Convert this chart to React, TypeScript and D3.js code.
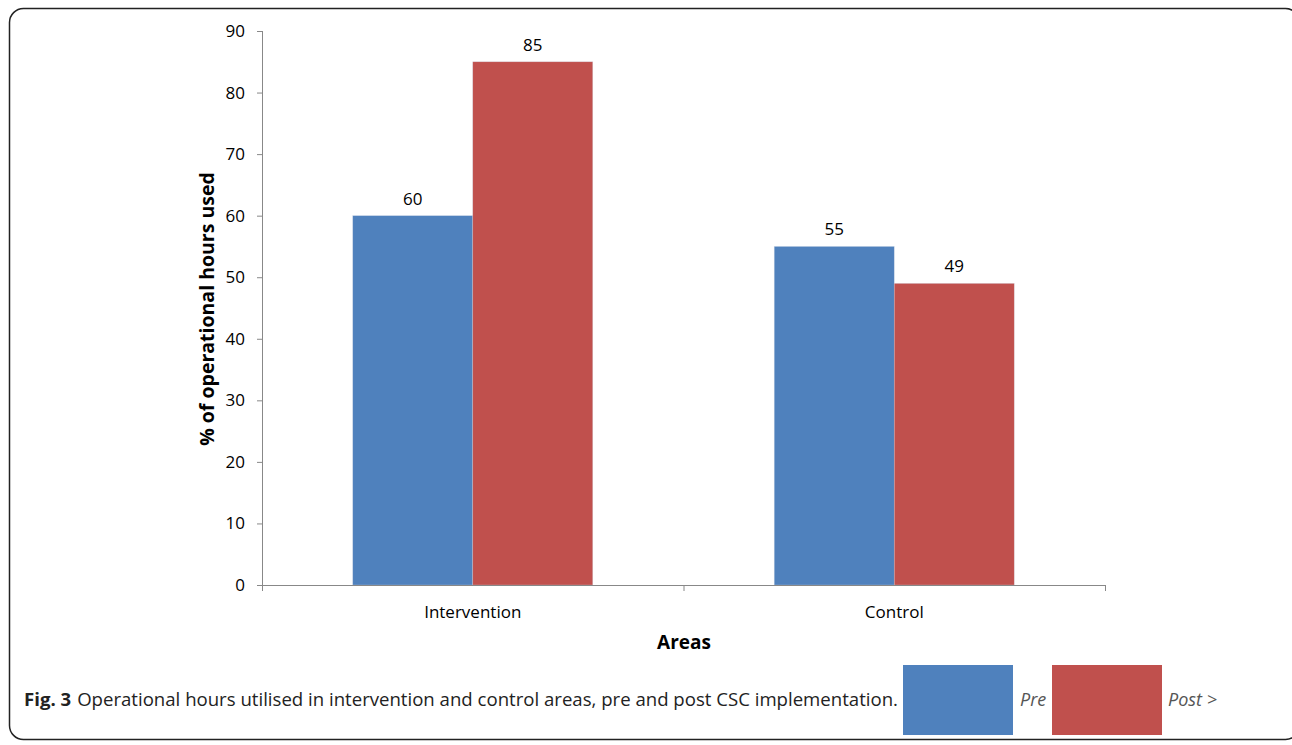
import React from "react";
import * as d3 from "d3";

const categories = ["Intervention", "Control"];
const seriesNames = ["Pre", "Post"];
const preValues = [60, 55];
const postValues = [85, 49];
const yTicks = [0, 10, 20, 30, 40, 50, 60, 70, 80, 90];
const colors = ["#4F81BD", "#C0504D"];

export default function App() {
  const W = 1292, H = 745;
  const x0 = 262, x1 = 1105, y0 = 585, y1 = 31;
  const y = d3.scaleLinear().domain([0, 90]).range([y0, y1]);
  const xb = d3.scaleBand().domain(categories).range([x0, x1]).paddingInner(0).paddingOuter(0);
  const inner = d3.scaleBand().domain(seriesNames).range([0, 240]);
  const series = [preValues, postValues];
  const font = "'Open Sans', sans-serif";
  return (
    <svg width={W} height={H} style={{ position: "absolute", left: 0, top: 0 }}>
      <rect x={0} y={0} width={W} height={H} fill="#fff" />
      <rect x={9.5} y={8.5} width={1290} height={731} rx={14} fill="none" stroke="#222" strokeWidth={1.5} />
      {/* bars */}
      {categories.map((c, ci) => {
        const cx = (xb(c) as number) + xb.bandwidth() / 2;
        return seriesNames.map((s, si) => {
          const v = series[si][ci];
          const bx = cx - 120 + (inner(s) as number);
          return (
            <g key={c + s}>
              <rect x={bx} y={y(v)} width={inner.bandwidth()} height={y0 - y(v)} fill={colors[si]} stroke="#d0d8e8" strokeOpacity={0.5} strokeWidth={0.6} />
              <text x={bx + inner.bandwidth() / 2} y={y(v) - 11} textAnchor="middle" fontFamily={font} fontSize={17} fill="#000">{v}</text>
            </g>
          );
        });
      })}
      {/* y axis */}
      <line x1={x0 + 0.5} x2={x0 + 0.5} y1={y1} y2={y0} stroke="#888" />
      {yTicks.map((t) => (
        <g key={t}>
          <line x1={x0 - 5} x2={x0} y1={y(t) + 0.5} y2={y(t) + 0.5} stroke="#888" />
          <text x={245} y={y(t) + 6} textAnchor="end" fontFamily={font} fontSize={17} fill="#000">{t}</text>
        </g>
      ))}
      {/* x axis */}
      <line x1={x0} x2={x1} y1={y0 + 0.5} y2={y0 + 0.5} stroke="#888" />
      {[x0, x0 + xb.bandwidth(), x1].map((t, i) => (
        <line key={i} x1={t + 0.5} x2={t + 0.5} y1={y0} y2={y0 + 6} stroke="#888" />
      ))}
      {categories.map((c) => (
        <text key={c} x={(xb(c) as number) + xb.bandwidth() / 2} y={618} textAnchor="middle" fontFamily={font} fontSize={17} fill="#000">{c}</text>
      ))}
      <text x={684} y={649} textAnchor="middle" fontFamily={font} fontSize={19} fontWeight="bold" fill="#000">Areas</text>
      <text transform={`translate(214,309) rotate(-90)`} textAnchor="middle" fontFamily={font} fontSize={19.5} fontWeight="bold" fill="#000">% of operational hours used</text>
      {/* caption */}
      <text x={24} y={706} fontFamily={font} fontSize={18.6} fill="#222">
        <tspan fontWeight="bold">Fig. 3</tspan>
        <tspan dx={6}>Operational hours utilised in intervention and control areas, pre and post CSC implementation.</tspan>
      </text>
      <rect x={903} y={665} width={110} height={70} fill={colors[0]} />
      <text x={1020} y={706} fontFamily={font} fontSize={18} fontStyle="italic" fill="#555">{seriesNames[0]}</text>
      <rect x={1052} y={665} width={110} height={70} fill={colors[1]} />
      <text x={1168} y={706} fontFamily={font} fontSize={18} fontStyle="italic" fill="#555">{seriesNames[1]} &gt;</text>
    </svg>
  );
}
